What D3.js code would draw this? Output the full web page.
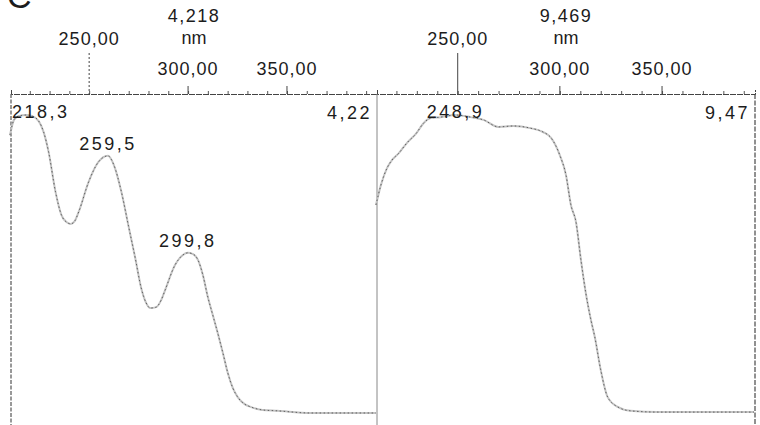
<!DOCTYPE html>
<html>
<head>
<meta charset="utf-8">
<script src="https://cdn.jsdelivr.net/npm/d3@7"></script>
<style>
body { margin: 0; background: #fff; }
text { font-family: "Liberation Sans", Arial, sans-serif; fill: #1c1c1c; }
</style>
</head>
<body>
<svg id="chart" width="760" height="425"></svg>
<script>
// retention time (min) shown above each spectrum, and the value in the corner
const panelTimes = ["4,218", "9,469"];
const panelMax = ["4,22", "9,47"];

// wavelength ticks on the top axis
const tickNm = [250, 300, 350];
const tickLabels = ["250,00", "300,00", "350,00"];

// spectrum at 4.218 min (wavelength nm, relative absorbance)
const wlA = [210, 212, 214.5, 218.3, 221, 224.5, 227, 229.5, 233, 236, 238.5, 240.7, 242.7, 244.7, 249.7, 254.7, 259.5,
  262.5, 266.3, 269.8, 273.3, 276.3, 278.8, 280.9, 283.9, 286.4, 288.4, 293.4, 297.4, 299.8, 302.5, 305, 307.5,
  310, 312.5, 315, 317.6, 320.1, 322.6, 325.1, 328.6, 331.6, 337.6, 345.2, 361.8, 377.8, 395];
const absA = [93.4, 98.4, 99.7, 100, 99.7, 98.0, 94.4, 87.9, 74.8, 67.2, 64.9, 64.3, 65.2, 68.2, 78.0, 84.6, 86.6,
  83.6, 74.8, 63.9, 53.1, 43.3, 38.4, 36.7, 37.0, 39.3, 42.6, 50.8, 54.1, 54.8, 54.4, 52.5, 47.5,
  40.3, 34.4, 28.5, 22.0, 15.4, 10.5, 7.5, 5.2, 4.3, 3.3, 3.0, 2.3, 2.3, 2.3];
const peaksA = [218.3, 259.5, 299.8];
const peakAbsA = [100, 86.6, 54.8];

// spectrum at 9.469 min
const wlB = [210, 212.4, 215.4, 217.8, 221.2, 225.1, 229.5, 233.4, 236.8, 241.6, 248.9, 256.3, 262.6, 269.9, 277.2,
  285.5, 291.8, 295.7, 300.1, 303, 305.4, 307.9, 310.3, 312.7, 315.2, 317.1, 320, 323.4, 328.3, 334.6, 347.8, 367.3, 395];
const absB = [70.5, 77.0, 82.6, 85.2, 87.5, 90.8, 93.8, 97.4, 99.0, 99.3, 100, 99.3, 98.4, 96.1, 96.4,
  95.7, 94.4, 92.5, 86.6, 80.3, 70.5, 64.9, 52.5, 41.6, 32.8, 27.2, 16.4, 7.5, 4.3, 3.0, 2.6, 2.6, 2.6];
const peaksB = [248.9];
const peakAbsB = [100];

const svg = d3.select("#chart");
const axisY = 94, bottom = 425;
const fmt = v => d3.format(".1f")(v).replace(".", ",");

// "C" panel letter, cut by the top edge as in the scan
svg.append("text").attr("x", 7).attr("y", 8).attr("font-size", 34).text("C");

const yScale = d3.scaleLinear().domain([0, 100]).range([420, 115]);

const panels = [
  {x0: 11, x1: 377, wl: wlA, abs: absA, peaks: peaksA, peakAbs: peakAbsA, time: panelTimes[0], max: panelMax[0]},
  {x0: 377, x1: 755, wl: wlB, abs: absB, peaks: peaksB, peakAbs: peakAbsB, time: panelTimes[1], max: panelMax[1]}
];

panels.forEach(function(p, pi) {
  const x = d3.scaleLinear().domain([210.5, 395.5]).range([p.x0, p.x1]);
  const g = svg.append("g");

  //frame sides
  g.append("line").attr("x1", p.x0).attr("x2", p.x0).attr("y1", axisY).attr("y2", bottom)
    .attr("stroke", pi == 0 ? "#333" : "#888").attr("stroke-width", 1)
    .attr("stroke-dasharray", pi == 0 ? "4,1.5" : null);
  if (pi == 1) {
    g.append("line").attr("x1", p.x1).attr("x2", p.x1).attr("y1", axisY).attr("y2", bottom)
      .attr("stroke", "#222").attr("stroke-width", 1).attr("stroke-dasharray", "5,1.5");
  }

  //top axis with minor ticks every 10 nm
  const axis = d3.axisTop(x).tickValues(d3.range(220, 395, 10)).tickSize(3).tickSizeOuter(4).tickFormat("");
  const ag = g.append("g").attr("transform", "translate(0," + axisY + ")").call(axis);
  ag.select(".domain").attr("stroke", "#444").attr("stroke-dasharray", "6,1");
  ag.selectAll(".tick line").attr("stroke", "#555");

  //major ticks and staggered labels
  tickNm.forEach(function(t, i) {
    const tx = x(t);
    const first = i == 0;
    g.append("line").attr("x1", tx).attr("x2", tx)
      .attr("y1", first ? 53 : axisY - 8).attr("y2", axisY)
      .attr("stroke", "#444").attr("stroke-width", 1)
      .attr("stroke-dasharray", first && pi == 0 ? "2,2" : null);
    g.append("text").attr("x", tx).attr("y", first ? 45 : 75)
      .attr("text-anchor", "middle").attr("font-size", 18).attr("letter-spacing", 1)
      .text(tickLabels[i]);
  });

  //retention time and unit
  const cx = (p.x0 + p.x1) / 2;
  g.append("text").attr("x", cx).attr("y", 22).attr("text-anchor", "middle")
    .attr("font-size", 18).attr("letter-spacing", 1.5).text(p.time);
  g.append("text").attr("x", cx).attr("y", 44).attr("text-anchor", "middle")
    .attr("font-size", 18).text("nm");

  //spectrum line: soft grey under a dotted dark trace, like the scan
  const line = d3.line().x((d, i) => x(p.wl[i])).y(d => yScale(d)).curve(d3.curveMonotoneX);
  g.append("path").datum(p.abs).attr("d", line)
    .attr("fill", "none").attr("stroke", "#c4c4c4").attr("stroke-width", 2);
  g.append("path").datum(p.abs).attr("d", line)
    .attr("fill", "none").attr("stroke", "#555").attr("stroke-width", 0.9).attr("stroke-dasharray", "1.5,2.5");

  //peak labels
  p.peaks.forEach(function(nm, i) {
    const t = g.append("text").attr("font-size", 18).attr("letter-spacing", 2.5).text(fmt(nm));
    const w = t.node().getComputedTextLength();
    const lx = Math.max(p.x0 + 1, x(nm) - w / 2);
    const ly = Math.max(yScale(p.peakAbs[i]) - 6, 118);
    t.attr("x", lx).attr("y", ly);
  });

  //max value in the corner
  g.append("text").attr("x", p.x1 - 5).attr("y", 119).attr("text-anchor", "end")
    .attr("font-size", 18).attr("letter-spacing", 2.5).text(p.max);
});
</script>
</body>
</html>
